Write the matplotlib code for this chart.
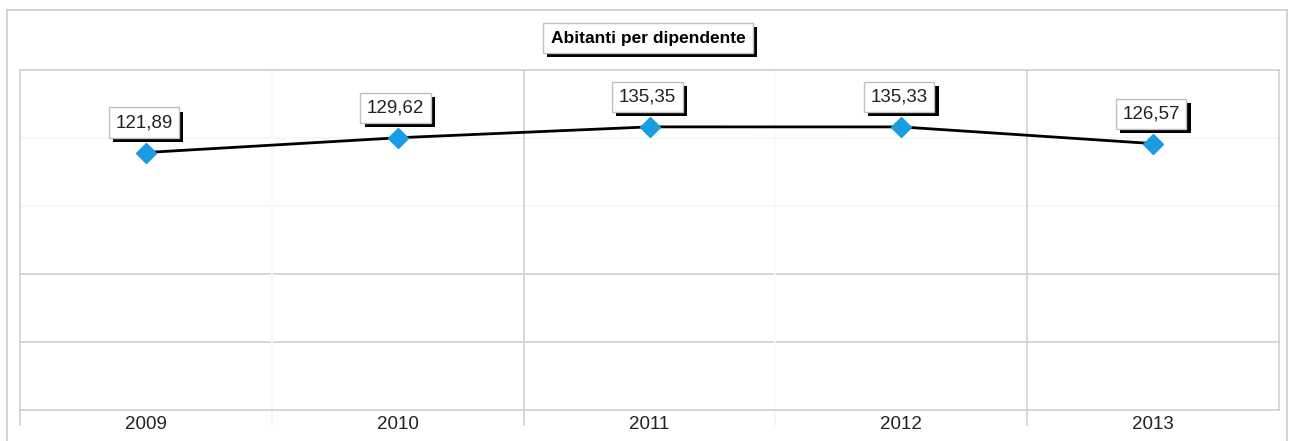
import matplotlib
matplotlib.use("Agg")
import matplotlib.pyplot as plt
import matplotlib.patheffects as pe
from matplotlib.lines import Line2D

plt.rcParams['font.family'] = ['Liberation Sans', 'DejaVu Sans']

title = "Abitanti per dipendente"
years = ["2009", "2010", "2011", "2012", "2013"]
values = [121.89, 129.62, 135.35, 135.33, 126.57]
value_labels = ["121,89", "129,62", "135,35", "135,33", "126,57"]

W, H = 1290, 441
fig = plt.figure(figsize=(W / 100, H / 100), dpi=100)
fig.patch.set_facecolor("white")

# outer frame
fx0, fx1, fy0 = 7 / W, 1287 / W, 1 - 10 / H
for xs, ys in [([fx0, fx0], [0, fy0]), ([fx0, fx1], [fy0, fy0]), ([fx1, fx1], [fy0, 0])]:
    fig.add_artist(Line2D(xs, ys, color="#cccccc", lw=1.2, transform=fig.transFigure))

left, right, top, bottom = 20, 1279, 70, 409.5
ax = fig.add_axes([left / W, 1 - bottom / H, (right - left) / W, (bottom - top) / H])
x = list(range(len(years)))
ax.set_xlim(-0.5, len(years) - 0.5)
ylo, yhi = -13, 165.2
ax.set_ylim(ylo, yhi)

# gridlines
step = (yhi - ylo) / 5
for i in range(1, 5):
    yv = ylo + i * step
    ax.axhline(yv, color="#cfcfcf" if i <= 2 else "#f6f6f6", lw=1.2, zorder=0)
for i, b in enumerate([0.5, 1.5, 2.5, 3.5]):
    ax.axvline(b, color="#cfcfcf" if i % 2 == 1 else "#fafafa", lw=1.2, zorder=0)

for s in ax.spines.values():
    s.set_color("#cfcfcf")
    s.set_linewidth(1.2)

ax.set_yticks([])
ax.set_xticks(x)
ax.set_xticklabels(years, fontsize=13.5, color="#222222")
ax.tick_params(axis="x", length=0, pad=5)
# tick marks at category boundaries
for i, b in enumerate([-0.5, 0.5, 1.5, 2.5, 3.5]):
    ax.plot([b, b], [0, -0.045], transform=ax.get_xaxis_transform(), clip_on=False,
            color="#cfcfcf" if (i % 2 == 0) else "#f4f4f4", lw=1.2)

ax.plot(x, values, color="black", lw=2, zorder=3)
ax.plot(x, values, linestyle="none", marker="D", markersize=10,
        markerfacecolor="#1b9be3", markeredgecolor="#1b9be3", zorder=4)

for xi, v, lab in zip(x, values, value_labels):
    t = ax.annotate(lab, (xi, v), xytext=(-2, 30), textcoords="offset pixels",
                    ha="center", va="center", fontsize=13.5, color="#222222", zorder=5,
                    bbox=dict(boxstyle="square,pad=0.35", fc="white", ec="#c0c0c0", lw=1))
    t.get_bbox_patch().set_path_effects([
        pe.SimplePatchShadow(offset=(3, -3), shadow_rgbFace="black", alpha=1), pe.Normal()])

tt = fig.text(648 / W, 1 - 38 / H, title, ha="center", va="center", fontsize=12.5,
              fontweight="bold", color="black",
              bbox=dict(boxstyle="square,pad=0.45", fc="white", ec="#c0c0c0", lw=1))
tt.get_bbox_patch().set_path_effects([
    pe.SimplePatchShadow(offset=(3, -3), shadow_rgbFace="black", alpha=1), pe.Normal()])

fig.savefig("out.png", dpi=100, facecolor="white")
